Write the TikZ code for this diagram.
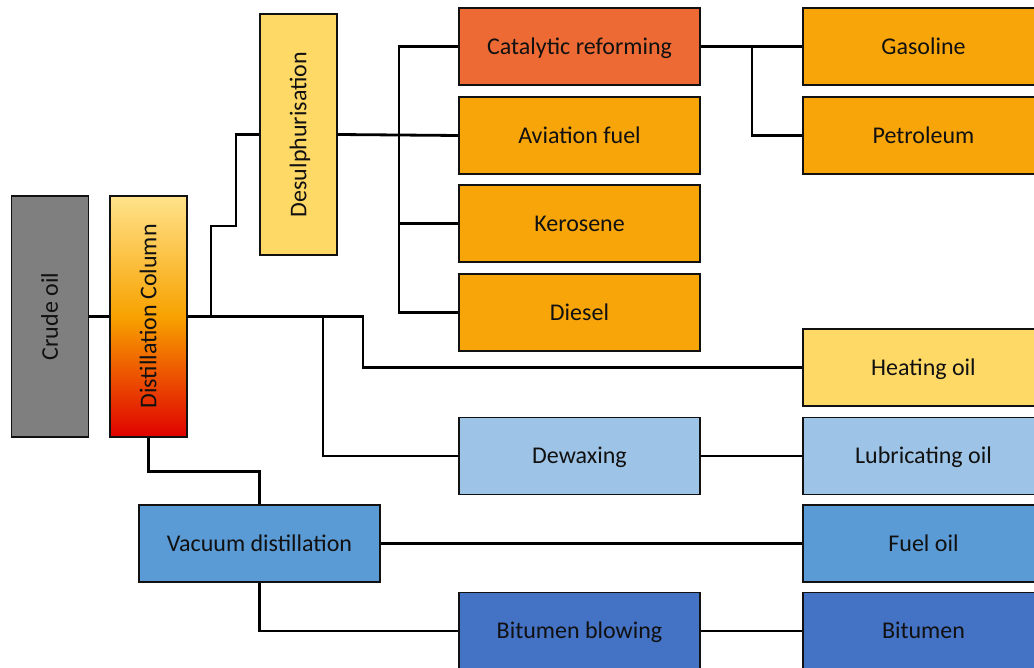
\documentclass[tikz,border=0pt]{standalone}
\usepackage{fontspec}
\setmainfont{Carlito}
\usepackage{xcolor}
\usepackage{tikz}
\usetikzlibrary{positioning,backgrounds,calc}
\definecolor{CrudeGray}{HTML}{7F7F7F}
\definecolor{PaleYellow}{HTML}{FFD966}
\definecolor{ReformRed}{HTML}{ED6A35}
\definecolor{FuelOrange}{HTML}{F8A50A}
\definecolor{LightBlue}{HTML}{9DC3E6}
\definecolor{MidBlue}{HTML}{5B9BD5}
\definecolor{DeepBlue}{HTML}{4472C4}
\definecolor{ColTop}{HTML}{FFE38C}
\definecolor{ColMid}{HTML}{F8A200}
\definecolor{ColBot}{HTML}{E00000}
\definecolor{TextDark}{HTML}{111111}
\pgfdeclareverticalshading{columnheat}{100bp}{color(0bp)=(ColBot); color(25bp)=(ColBot);
  color(50bp)=(ColMid); color(75bp)=(ColTop); color(100bp)=(ColTop)}
\tikzset{
  unitbox/.style={draw=TextDark, line width=1.3pt, minimum width=241pt,
    minimum height=77pt, inner sep=0pt, text=TextDark,
    text height=17pt, text depth=1.5pt,
    font=\fontsize{24}{28}\selectfont},
  tallbox/.style={unitbox, rotate=90, minimum width=241pt, minimum height=77pt},
  link/.style={draw=black, line width=2.8pt}
}

\begin{document}
\begin{tikzpicture}[x=1pt, y=-1pt]
  \useasboundingbox (0,0) rectangle (1034,668);
  \clip (0,0) rectangle (1034,668);
  % feed and column
  \node[tallbox, fill=CrudeGray] (crude) at (50,316.5) {Crude oil};
  \node[tallbox] (column) at (148.5,316.5) {Distillation Column};
  \begin{scope}[on background layer]
    \shade[shading=columnheat]
      (column.south west) rectangle (column.north east);
  \end{scope}
  \node[tallbox, fill=PaleYellow] (desulph) at (298.5,134.5) {Desulphurisation};
  % middle units
  \node[unitbox, fill=ReformRed] (reform) at (579.5,46.5) {Catalytic reforming};
  \node[unitbox, fill=FuelOrange] (aviation) at (579.5,135.5) {Aviation fuel};
  \node[unitbox, fill=FuelOrange] (kerosene) at (579.5,223.5) {Kerosene};
  \node[unitbox, fill=FuelOrange] (diesel) at (579.5,312.5) {Diesel};
  \node[unitbox, fill=LightBlue] (dewax) at (579.5,456) {Dewaxing};
  \node[unitbox, fill=MidBlue] (vacuum) at (259.5,543.5) {Vacuum distillation};
  \node[unitbox, fill=DeepBlue] (blowing) at (579.5,631) {Bitumen blowing};
  % products
  \node[unitbox, fill=FuelOrange] (gasoline) at (923.5,46.5) {Gasoline};
  \node[unitbox, fill=FuelOrange] (petroleum) at (923.5,135.5) {Petroleum};
  \node[unitbox, fill=PaleYellow] (heating) at (923.5,367.5) {Heating oil};
  \node[unitbox, fill=LightBlue] (lube) at (923.5,456) {Lubricating oil};
  \node[unitbox, fill=MidBlue] (fueloil) at (923.5,543.5) {Fuel oil};
  \node[unitbox, fill=DeepBlue] (bitumen) at (923.5,631) {Bitumen};
  % connectors
  \coordinate (upfork) at (211,316.5);
  \coordinate (downfork) at (323,316.5);
  \coordinate (trunk) at (399,134.5);
  \coordinate (prodfork) at (752,46.5);
  \draw[link] (crude.south) -- (column.north);
  \draw[link] (column.south) -- (363,316.5) |- (heating.west);
  \draw[link] (upfork) -- (211,226) -- (236,226) |- (desulph.north);
  \draw[link] (downfork) |- (dewax.west);
  \draw[link] (desulph.south) -- (aviation.west);
  \draw[link] (trunk) |- (reform.west);
  \draw[link] (trunk) |- (kerosene.west);
  \draw[link] (trunk) |- (diesel.west);
  \draw[link] (reform.east) -- (gasoline.west);
  \draw[link] (prodfork) |- (petroleum.west);
  \draw[link] (column.west) -- ++(0,34) -| (vacuum.north);
  \draw[link] (vacuum.east) -- (fueloil.west);
  \draw[link] (vacuum.south) |- (blowing.west);
  \draw[link] (blowing.east) -- (bitumen.west);
  \draw[link] (dewax.east) -- (lube.west);
\end{tikzpicture}
\end{document}
